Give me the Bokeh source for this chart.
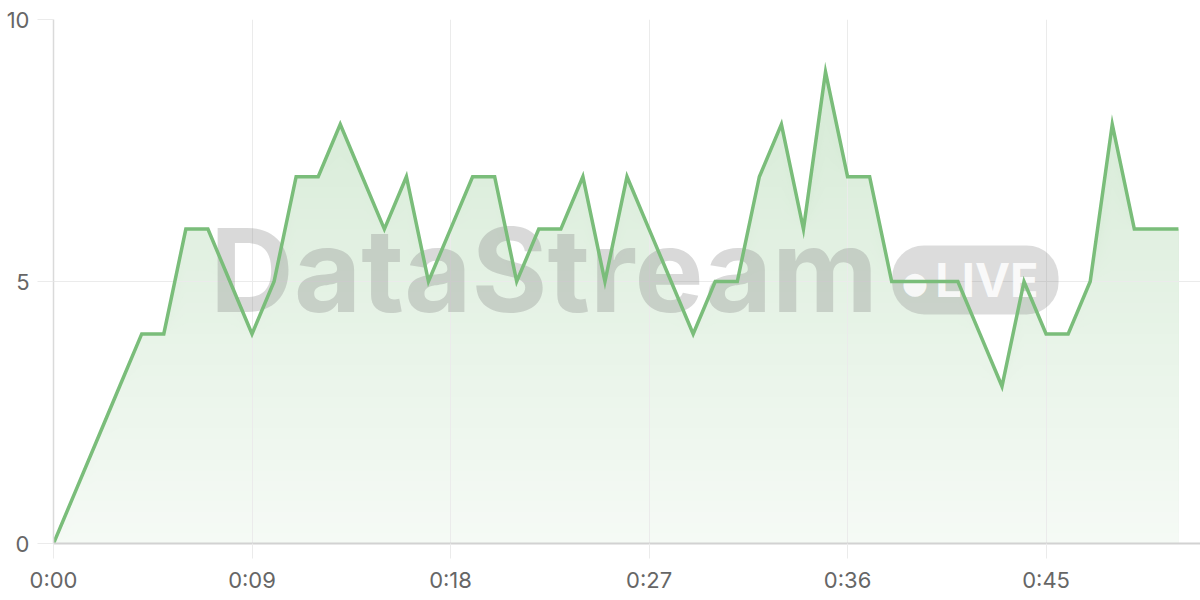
import numpy as np
from bokeh.plotting import figure
from bokeh.models import Range1d, FixedTicker, Label
from bokeh.embed import file_html
from bokeh.resources import INLINE

# seconds since start, one reading per second
seconds = list(range(52))
readings = [0, 1, 2, 3, 4, 4, 6, 6, 5, 4,
            5, 7, 7, 8, 7, 6, 7, 5, 6, 7,
            7, 5, 6, 6, 7, 5, 7, 6, 5, 4,
            5, 5, 7, 8, 6, 9, 7, 7, 5, 5,
            5, 5, 4, 3, 5, 4, 4, 5, 8, 6,
            6, 6]

x_ticks = [0, 9, 18, 27, 36, 45]
x_tick_labels = ["0:00", "0:09", "0:18", "0:27", "0:36", "0:45"]
y_ticks = [0, 5, 10]

green = (122, 189, 122)
line_color = "#7abd7a"
grid_color = "#ebebeb"
label_color = "#666666"


def tint(alpha):
    # green blended on white, so the stacked bands stay opaque
    r, g, b = (round(255 + alpha * (c - 255)) for c in green)
    return "#%02x%02x%02x" % (r, g, b)


p = figure(width=1200, height=600, output_backend="svg", toolbar_location=None, tools="",
           x_range=Range1d(0, 52.0), y_range=Range1d(0, 10),
           min_border_left=53, min_border_right=0, min_border_top=19, min_border_bottom=57)
p.outline_line_color = None
p.background_fill_color = "white"

# vertical gradient under the line, drawn as bands from the top down
y = np.array(readings, dtype=float)
for lvl in np.arange(10, 0, -0.2):
    p.varea(x=seconds, y1=0, y2=np.minimum(y, lvl),
            fill_color=tint(0.07 + 0.026 * lvl), level="image")

# watermark
wm = Label(x=7.1, y=5.21, text="DataStream", text_font="Inter", text_font_style="bold",
           text_font_size="116px", text_color="#808080", text_alpha=0.3,
           text_baseline="middle", level="underlay")
pill = Label(x=38.02, y=5.03, text="LIVE", text_font="Inter", text_font_style="bold",
             text_font_size="47px", text_color="white", text_alpha=0.85,
             text_baseline="middle", background_fill_color="#808080",
             background_fill_alpha=0.28, border_radius=32,
             padding=dict(left=43, right=20, top=6, bottom=6), level="underlay")
dot = Label(x=39.05, y=4.98, text="●", text_font="DejaVu Sans", text_font_size="30px",
            text_color="white", text_alpha=0.85, text_align="center",
            text_baseline="middle", level="underlay")
p.add_layout(wm)
p.add_layout(pill)
p.add_layout(dot)

p.line(x=seconds, y=readings, line_color=line_color, line_width=3.5, line_join="miter")

p.xgrid.grid_line_color = grid_color
p.ygrid.grid_line_color = grid_color
p.xgrid.ticker = FixedTicker(ticks=x_ticks)
p.ygrid.ticker = FixedTicker(ticks=y_ticks)

p.xaxis.ticker = FixedTicker(ticks=x_ticks)
p.xaxis.major_label_overrides = dict(zip(x_ticks, x_tick_labels))
p.yaxis.ticker = FixedTicker(ticks=y_ticks)

for ax in (p.xaxis, p.yaxis):
    ax.major_label_text_font = "Inter"
    ax.major_label_text_font_size = "22px"
    ax.major_label_text_color = label_color
    ax.major_tick_line_color = grid_color
    ax.major_tick_in = 0
    ax.minor_tick_line_color = None
    ax.major_label_standoff = 8

p.xaxis.axis_line_color = "#d2d2d2"
p.xaxis.axis_line_width = 2
p.xaxis.major_tick_out = 15
p.yaxis.axis_line_color = "#dadada"
p.yaxis.axis_line_width = 1.5
p.yaxis.major_tick_out = 16

open("out.html", "w").write(file_html(p, INLINE))
